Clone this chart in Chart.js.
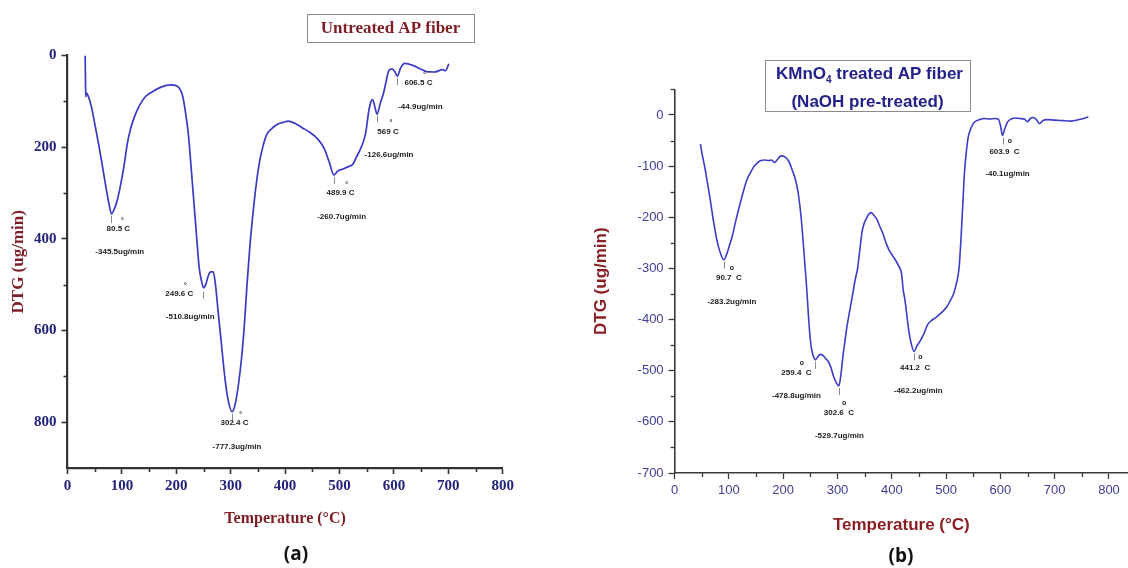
<!DOCTYPE html>
<html><head><meta charset="utf-8">
<script src="https://cdn.jsdelivr.net/npm/chart.js@4.4.1/dist/chart.umd.min.js"></script>
<style>
html,body{margin:0;padding:0;background:#fff;}
body{width:1128px;height:568px;position:relative;overflow:hidden;}
.panel{position:absolute;top:0;height:568px;width:564px;}
#pa{left:0}#pb{left:564px}
</style></head><body>
<div class="panel" id="pa"><canvas id="ca"></canvas></div>
<div class="panel" id="pb"><canvas id="cb"></canvas></div>
<script>
// ---------- data: panel (a) untreated AP fiber ----------
const tempA = [32.5,33,33.5,35,38,44,50,57,64,70.5,76,81,86,91,97,104,110,116,123,132,143,156,172,189,202,208,212,217,222,227,232,237,242,246,250,254,259,263,268,272,277,283,289,295,302.4,308,314,320,325,330,335,340,346,353,360,366,375,386,396,406,418,432,446,459,472,481,489.9,497,505,515,524.7,531,540,548,554,558,561,565,569,575,580.7,586,590.5,597,602,606.5,612,620,636,650,660,675,689,695,701];
const dtgA  = [0,50,90,82,88,112,148,192,240,286,322,345.5,335,318,286,240,192,160,134,110,90,79,69,64,67,76,90,125,170,240,315,390,462,490,507,500,480,472,472,500,560,630,700,750,777.3,762,720,660,590,500,420,356,290,232,195,173,160,150,146,143,148,158,168,181,203,232,260.7,252,248,243,237,222,200,170,120,100,96,112,128,104,83,55,33,29,36,44.9,28,17,22,30,35,36,31,33,18];
const peakTempA = [80.5,249.6,302.4,489.9,569,606.5];
const peakDtgA  = [345.5,510.8,777.3,260.7,126.6,44.9];
const peakRateA = ['-345.5ug/min','-510.8ug/min','-777.3ug/min','-260.7ug/min','-126.6ug/min','-44.9ug/min'];

// ---------- data: panel (b) KMnO4 treated AP fiber ----------
const tempB = [47.6,51,55.6,60,65.7,72,79,85,90.7,96,101,106,112,119,126,133,140,146,153,159,166,173,179,184,190,196,203,210,216,223,228,233,238,243,247,250,253,256,259.4,263,268,273,278,283,288,293,298,302.6,306,310,314,318,323,328,333,337,341,345,349,353,357,362,367,373,378,384,390,396,402,408,413,417,419,421,424,427,431,436,441.2,446,452,459,466,473,481,488,495,502,508,513,517,521,524,527,531,534,538,541,545,550,555,562,570,580,590,596,600,603.9,608,613,620,628,636,644,650,656,661,667,672,678,686,700,715,730,745,762];
const dtgB  = [-57,-78,-102,-130,-166,-210,-250,-272,-283.2,-272,-255,-238,-210,-180,-152,-127,-112,-101,-93,-89,-88,-89,-88,-93,-86,-80,-82,-90,-106,-128,-155,-200,-265,-335,-400,-440,-462,-473,-478.8,-474,-468,-470,-476,-482,-494,-512,-524,-529.7,-510,-472,-440,-410,-380,-350,-320,-300,-265,-230,-212,-203,-195,-191,-196,-205,-218,-233,-252,-266,-276,-286,-296,-305,-320,-342,-360,-385,-420,-448,-462.2,-452,-442,-428,-410,-402,-396,-390,-383,-374,-362,-352,-338,-320,-298,-250,-170,-110,-65,-42,-28,-17,-12,-9,-7,-8,-7,-8,-20,-40.1,-27,-14,-8,-6,-7,-8,-13,-6,-5,-10,-17,-11,-9,-10,-11,-12,-9,-4];
const peakTempB = [90.7,259.4,302.6,441.2,603.9];
const peakDtgB  = [-283.2,-478.8,-529.7,-462.2,-40.1];
const peakRateB = ['-283.2ug/min','-478.8ug/min','-529.7ug/min','-462.2ug/min','-40.1ug/min'];

// ---------- tick labels ----------
const xTicks = [0,100,200,300,400,500,600,700,800];
const xMinorTicks = [50,150,250,350,450,550,650,750];
const yTicksA = [0,200,400,600,800];
const yMinorTicksA = [100,300,500,700];
const yTicksB = [0,-100,-200,-300,-400,-500,-600,-700];
const yMinorTicksB = [50,-50,-150,-250,-350,-450,-550,-650];

// ---------- plugin: peak labels, minor ticks, title boxes ----------
const annot = {
  id: 'annot',
  afterDraw(chart, args, o) {
    const {ctx, chartArea, scales: {x, y}} = chart;
    ctx.save();
    // minor ticks
    ctx.strokeStyle = o.axisColor; ctx.lineWidth = o.minorWidth;
    o.xMinor.forEach(v => {
      const px = Math.round(x.getPixelForValue(v)) + 0.5;
      ctx.beginPath(); ctx.moveTo(px, chartArea.bottom); ctx.lineTo(px, chartArea.bottom + 4); ctx.stroke();
    });
    o.yMinor.forEach(v => {
      const py = Math.round(y.getPixelForValue(v)) + 0.5;
      ctx.beginPath(); ctx.moveTo(chartArea.left - 4, py); ctx.lineTo(chartArea.left, py); ctx.stroke();
    });
    // peak markers and labels
    o.peakT.forEach((t, i) => {
      const px = x.getPixelForValue(t), py = y.getPixelForValue(o.peakV[i]);
      ctx.strokeStyle = '#8a8a8a'; ctx.lineWidth = 1;
      ctx.beginPath(); ctx.moveTo(Math.round(px) + 0.5, py + 2); ctx.lineTo(Math.round(px) + 0.5, py + 9); ctx.stroke();
      const [nx, ny] = o.nameOff[i], [vx, vy] = o.valOff[i];
      ctx.fillStyle = '#1c1c1c'; ctx.textBaseline = 'middle';
      ctx.font = o.labelFont; ctx.textAlign = 'left';
      const num = String(t);
      const full = num + o.gap + 'C';
      const w = ctx.measureText(full).width;
      const lx = px + nx - w / 2, ly = py + ny;
      ctx.fillText(full, lx, ly);
      const cx = lx + ctx.measureText(num + o.gap).width;
      ctx.font = o.degFont; ctx.textAlign = 'center';
      ctx.fillText(o.degChar, cx - o.degDx, ly - o.degDy);
      ctx.font = o.labelFont;
      ctx.fillText(o.rates[i], px + vx, py + vy);
    });
    // title box
    const b = o.box;
    ctx.fillStyle = '#fff'; ctx.fillRect(b.x, b.y, b.w, b.h);
    ctx.strokeStyle = '#8c8c8c'; ctx.lineWidth = 1;
    ctx.strokeRect(Math.round(b.x) + 0.5, Math.round(b.y) + 0.5, b.w, b.h);
    ctx.fillStyle = b.color; ctx.textBaseline = 'middle'; ctx.textAlign = 'left';
    b.lines.forEach(line => {
      let tw = 0;
      line.parts.forEach(p => { ctx.font = p.font; tw += ctx.measureText(p.t).width; });
      let sx = b.x + b.w / 2 - tw / 2 + (line.dx || 0);
      line.parts.forEach(p => { ctx.font = p.font; ctx.fillText(p.t, sx, line.y + (p.dy || 0)); sx += ctx.measureText(p.t).width; });
    });
    // panel label
    ctx.fillStyle = '#111'; ctx.font = o.panelFont; ctx.textAlign = 'center';
    ctx.fillText(o.panel.t, o.panel.x, o.panel.y);
    ctx.restore();
  }
};

function pts(xs, ys) { return xs.map((v, i) => ({x: v, y: ys[i]})); }

const serif = 'Liberation Serif, Times New Roman, serif';
const sans = 'Liberation Sans, Arial, sans-serif';
const red = '#7d1d24';

// ---------- chart (a) ----------
new Chart(document.getElementById('ca'), {
  type: 'line',
  data: {datasets: [{data: pts(tempA, dtgA), borderColor: '#3a3ac4', borderWidth: 1.7, pointRadius: 0, fill: false, cubicInterpolationMode: 'monotone'}]},
  options: {
    responsive: true, maintainAspectRatio: false, animation: false,
    layout: {padding: {left: 8, top: 55.5, right: 61.3, bottom: 39.4}},
    plugins: {
      legend: {display: false}, tooltip: {enabled: false},
      annot: {
        axisColor: '#333', minorWidth: 1.6,
        xMinor: xMinorTicks, yMinor: yMinorTicksA,
        peakT: peakTempA, peakV: peakDtgA, rates: peakRateA,
        nameOff: [[7,15],[-24,4],[2.5,11],[6.5,18],[11,18],[21,7]],
        valOff: [[8.5,38],[-13,27],[5,35],[7.6,42],[12,41],[23,31]],
        labelFont: 'bold 8px ' + sans, degFont: 'bold 7px ' + sans, degChar: '°', gap: ' ', degDx: 2, degDy: 8,
        box: {x: 307, y: 14, w: 167, h: 28, color: red,
          lines: [{y: 28.5, parts: [{t: 'Untreated AP fiber', font: 'bold 17px ' + serif}]}]},
        panelFont: 'bold 19px Open Sans, ' + sans, panel: {t: '(a)', x: 296, y: 555}
      }
    },
    scales: {
      x: {
        type: 'linear', min: 0, max: 800,
        afterBuildTicks: s => { s.ticks = xTicks.map(v => ({value: v})); },
        afterFit: s => { s.height = 60.6; },
        border: {display: true, color: '#333', width: 2.2},
        grid: {display: true, drawOnChartArea: false, drawTicks: true, tickLength: 6, tickColor: '#333', tickWidth: 1.6},
        ticks: {color: '#23237a', font: {family: serif, weight: 'bold', size: 15}, padding: 3, maxRotation: 0, autoSkip: false},
        title: {display: true, text: 'Temperature (°C)', color: red, font: {family: serif, weight: 'bold', size: 16}, padding: 0}
      },
      y: {
        type: 'linear', min: 0, max: 900, reverse: true,
        afterBuildTicks: s => { s.ticks = yTicksA.map(v => ({value: v})); },
        afterFit: s => { s.width = 59.5; },
        border: {display: true, color: '#333', width: 2.2},
        grid: {display: true, drawOnChartArea: false, drawTicks: true, tickLength: 6, tickColor: '#333', tickWidth: 1.6},
        ticks: {color: '#23237a', font: {family: serif, weight: 'bold', size: 15}, padding: 5, autoSkip: false},
        title: {display: true, text: 'DTG (ug/min)', color: red, font: {family: serif, weight: 'bold', size: 17}, padding: 0}
      }
    }
  },
  plugins: [annot]
});

// ---------- chart (b) ----------
new Chart(document.getElementById('cb'), {
  type: 'line',
  data: {datasets: [{data: pts(tempB, dtgB), borderColor: '#3c3cc8', borderWidth: 1.6, pointRadius: 0, fill: false, cubicInterpolationMode: 'monotone'}]},
  options: {
    responsive: true, maintainAspectRatio: false, animation: false,
    layout: {padding: {left: 26.8, top: 89.4, right: 0, bottom: 32.8}},
    plugins: {
      legend: {display: false}, tooltip: {enabled: false},
      annot: {
        axisColor: '#3a3a3a', minorWidth: 1.3,
        xMinor: xMinorTicks, yMinor: yMinorTicksB,
        peakT: peakTempB, peakV: peakDtgB, rates: peakRateB,
        nameOff: [[5,18],[-19,13],[0,27],[1,16],[2,16]],
        valOff: [[8,42],[-19,36],[0.5,50],[4,39],[5,38]],
        labelFont: 'bold 8px ' + sans, degFont: 'bold 7px ' + sans, degChar: 'o', gap: '  ', degDx: 4, degDy: 10,
        box: {x: 201, y: 60, w: 205, h: 51, color: '#22228a',
          lines: [
            {y: 74, dx: 2, parts: [{t: 'KMnO', font: 'bold 17px ' + sans}, {t: '4', font: 'bold 10px ' + sans, dy: 6}, {t: ' treated AP fiber', font: 'bold 17px ' + sans}]},
            {y: 102, parts: [{t: '(NaOH pre-treated)', font: 'bold 17px ' + sans}]}
          ]},
        panelFont: 'bold 19px Open Sans, ' + sans, panel: {t: '(b)', x: 337, y: 557}
      }
    },
    scales: {
      x: {
        type: 'linear', min: 0, max: 835,
        afterBuildTicks: s => { s.ticks = xTicks.map(v => ({value: v})); },
        afterFit: s => { s.height = 62.2; },
        border: {display: true, color: '#3a3a3a', width: 1.6},
        grid: {display: true, drawOnChartArea: false, drawTicks: true, tickLength: 6, tickColor: '#3a3a3a', tickWidth: 1.3},
        ticks: {color: '#3d3d94', font: {family: sans, size: 13}, padding: 4, maxRotation: 0, autoSkip: false},
        title: {display: true, text: 'Temperature (°C)', color: '#8a1f24', font: {family: sans, weight: 'bold', size: 17}, padding: 0}
      },
      y: {
        type: 'linear', min: -700, max: 50,
        afterBuildTicks: s => { s.ticks = yTicksB.map(v => ({value: v})); },
        afterFit: s => { s.width = 83.8; },
        border: {display: true, color: '#3a3a3a', width: 1.6},
        grid: {display: true, drawOnChartArea: false, drawTicks: true, tickLength: 6, tickColor: '#3a3a3a', tickWidth: 1.3},
        ticks: {color: '#3d3d94', font: {family: sans, size: 13}, padding: 5, autoSkip: false},
        title: {display: true, text: 'DTG (ug/min)', color: '#8a1f24', font: {family: sans, weight: 'bold', size: 17}, padding: 0}
      }
    }
  },
  plugins: [annot]
});
</script>
</body></html>
